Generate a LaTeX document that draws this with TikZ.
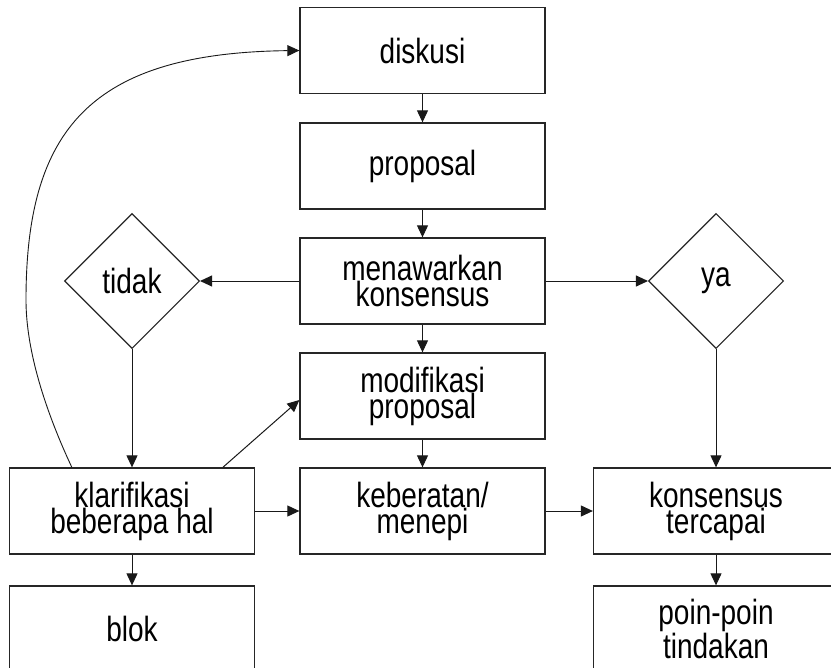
\documentclass[tikz,border=0pt]{standalone}
\usepackage{fontspec}
\setmainfont[FakeStretch=0.8]{Liberation Sans}
\usetikzlibrary{arrows.meta,shapes.geometric,calc}
\begin{document}
\begin{tikzpicture}[x=1pt,y=-1pt,
  boxnode/.style={draw=black!85,line width=1.3pt,minimum width=245pt,minimum height=86pt,inner sep=0pt,align=center,font=\fontsize{35}{26}\selectfont},
  decnode/.style={diamond,draw=black!85,line width=1.1pt,minimum width=135pt,minimum height=135pt,inner sep=0pt,font=\fontsize{35}{26}\selectfont},
  conn/.style={line width=1pt,black!90,-{Triangle[length=12pt,width=11pt]}},
  curveline/.style={line width=0.9pt,black!90,-{Triangle[length=12pt,width=11pt]}}]
\clip (0,0) rectangle (832,669);
\fill[white] (0,0) rectangle (832,669);
% center column
\node[boxnode] (disk) at (422.5,50.5) {diskusi};
\node[boxnode] (prop) at (422.5,166) {proposal};
\node[boxnode] (mena) at (422.5,281) {menawarkan\\konsensus};
\node[boxnode] (modi) at (422.5,396) {modifikasi\\proposal};
\node[boxnode] (kebe) at (422.5,511) {keberatan/\\menepi};
% left column
\node[decnode] (tidak) at (132,281) {tidak};
\node[boxnode] (klar) at (132,511) {klarifikasi\\beberapa hal};
\node[boxnode] (blok) at (132,629) {blok};
% right column
\node[decnode] (ya) at (716,281) {ya};
\node[boxnode] (kons) at (716,511) {konsensus\\tercapai};
\node[boxnode] (poin) at (716,629) {poin-poin\\tindakan};
% right-hand edges run past the page: cover them
\fill[white] (831,0) rectangle (840,669);
\fill[white] (0,668) rectangle (840,680);
% connectors
\draw[conn] (disk) -- (prop);
\draw[conn] (prop) -- (mena);
\draw[conn] (mena) -- (modi);
\draw[conn] (modi) -- (kebe);
\draw[conn] (mena.west) -- (tidak.east);
\draw[conn] (mena.east) -- (ya.west);
\draw[conn] (tidak.south) -- (klar.north);
\draw[conn] (ya.south) -- (kons.north);
\draw[conn] (klar.east) -- (kebe.west);
\draw[conn] (kebe.east) -- (kons.west);
\draw[conn] (klar.south) -- (blok.north);
\draw[conn] (kons.south) -- (poin.north);
\coordinate (kstart) at ($(klar.north west)+(214,0)$);
\draw[conn] (kstart) -- ($(modi.west)+(0,4)$);
\coordinate (cstart) at ($(klar.north west)+(63,0)$);
\coordinate (cmid) at (26,300);
\draw[curveline] (cstart) .. controls (45,410) and (26,350) .. (cmid)
  .. controls (26,130) and (90,53) .. (disk.west);
\end{tikzpicture}
\end{document}
